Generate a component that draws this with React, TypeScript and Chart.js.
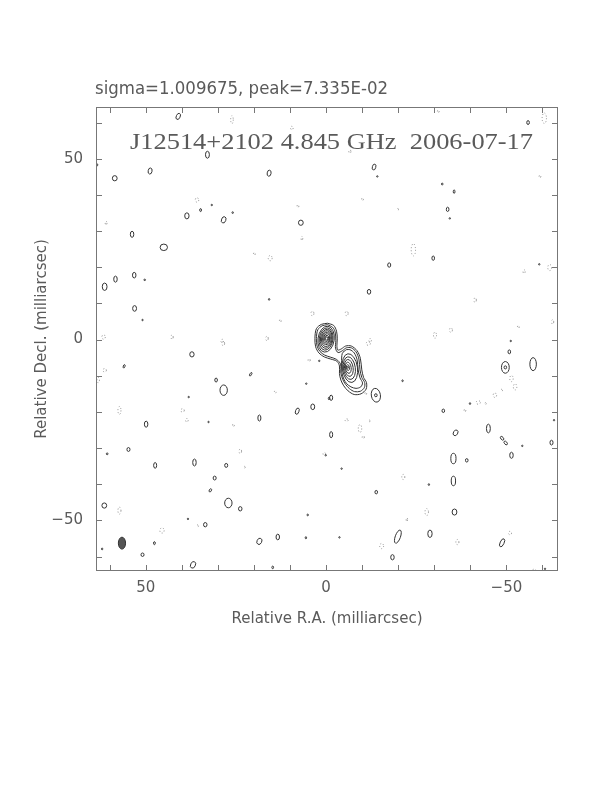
import React, { useEffect, useRef } from 'react';
import { Chart, registerables } from 'chart.js';

Chart.register(...registerables);

type Blob = [number, number, number, number, number]; // x, y, semi-axis x, semi-axis y, tilt (deg)
type Pt = [number, number];

const X_RANGE: Pt = [-64.3, 63.8];
const Y_RANGE: Pt = [-64.0, 64.3];
const TICK_STEP = 10;
const LABELED_TICKS = [-50, 0, 50];

const HEADER_TEXT = 'sigma=1.009675, peak=7.335E-02';
const MAP_TITLE = 'J12514+2102 4.845 GHz  2006-07-17';
const X_AXIS_TITLE = 'Relative R.A. (milliarcsec)';
const Y_AXIS_TITLE = 'Relative Decl. (milliarcsec)';

// outer contours enclosing core + jet component
const SOURCE_OUTER_1: Pt[] = [
  [-0.4, 4.5], [1.3, 4.2], [2.7, 3.0], [3.1, 0.3], [2.9, -2.0], [2.0, -3.7], [0.5, -4.8], [-1.3, -5.4],
  [-3.0, -6.0], [-3.7, -7.3], [-3.7, -9.4], [-4.1, -11.2], [-4.9, -12.8], [-6.1, -14.2], [-7.8, -15.2],
  [-9.7, -15.0], [-11.1, -13.7], [-11.2, -11.9], [-10.4, -10.5], [-9.9, -8.4], [-9.5, -5.2], [-8.6, -3.1],
  [-7.0, -1.8], [-5.4, -1.8], [-4.2, -2.6], [-3.2, -2.9], [-3.0, -1.6], [-3.1, 0.2], [-2.9, 2.3], [-2.1, 3.9],
];
const SOURCE_OUTER_2: Pt[] = [
  [-0.4, 4.1], [1.1, 3.8], [2.3, 2.7], [2.7, 0.3], [2.5, -1.8], [1.7, -3.3], [0.4, -4.3], [-1.3, -4.9],
  [-2.9, -5.5], [-4.0, -6.8], [-4.1, -9.3], [-4.6, -11.0], [-5.4, -12.4], [-6.5, -13.6], [-7.9, -14.4],
  [-9.5, -14.3], [-10.6, -13.3], [-10.7, -11.9], [-9.9, -10.5], [-9.4, -8.4], [-9.1, -5.4], [-8.3, -3.4],
  [-7.0, -2.3], [-5.6, -2.3], [-4.5, -3.1], [-3.3, -3.6], [-2.6, -2.4], [-2.7, -0.2], [-2.5, 2.1], [-1.8, 3.4],
];
const JET_OUTER: Pt[] = [
  [-5.6, -2.8], [-4.5, -3.8], [-4.3, -6.5], [-4.4, -9.2], [-4.9, -10.9], [-5.7, -12.2], [-6.9, -13.1],
  [-8.3, -13.5], [-9.6, -13.1], [-10.1, -12.0], [-9.4, -10.6], [-8.9, -8.4], [-8.6, -5.6], [-7.8, -3.7], [-6.6, -2.8],
];

const CORE_RINGS: Blob[] = [
  [0.0, 0.1, 2.25, 3.6, 8], [0.0, 0.15, 1.9, 3.1, 8], [-0.05, 0.2, 1.62, 2.63, 8], [-0.1, 0.25, 1.35, 2.2, 8],
  [-0.1, 0.3, 1.06, 1.74, 8], [-0.15, 0.3, 0.8, 1.3, 8], [-0.15, 0.3, 0.56, 0.87, 8], [-0.15, 0.3, 0.31, 0.47, 8],
];
const JET_RINGS: Blob[] = [
  [-6.6, -7.9, 2.1, 4.0, -8], [-6.45, -7.9, 1.65, 3.15, -8], [-6.3, -7.85, 1.2, 2.35, -8],
  [-6.15, -7.8, 0.8, 1.55, -8], [-6.05, -7.75, 0.42, 0.8, -8], [-6.0, -7.7, 0.2, 0.25, 0],
];

const POSITIVE_BLOBS: Blob[] = [
  [41.0, 61.7, 0.45, 0.75, 25], [32.9, 51.1, 0.45, 0.8, 0], [63.5, 48.3, 0.15, 0.25, 0], [58.6, 44.6, 0.55, 0.6, 0],
  [48.8, 46.6, 0.45, 0.7, 10], [15.8, 46.0, 0.45, 0.7, 10], [34.8, 35.8, 0.2, 0.35, 0], [31.7, 37.2, 0.12, 0.15, 0],
  [38.6, 34.2, 0.5, 0.7, 0], [28.4, 33.1, 0.5, 0.75, 20], [25.9, 35.1, 0.15, 0.2, 0], [7.0, 32.3, 0.55, 0.6, 0],
  [53.8, 29.1, 0.4, 0.7, 0], [45.0, 25.5, 0.85, 0.75, 0], [61.4, 14.6, 0.55, 0.85, 0], [58.4, 16.7, 0.4, 0.7, 0],
  [53.2, 17.8, 0.4, 0.65, 0], [50.3, 16.5, 0.2, 0.15, 0], [15.8, 11.1, 0.15, 0.2, 0], [53.1, 8.6, 0.45, 0.65, 0],
  [50.9, 5.4, 0.12, 0.15, 0],
  [-56.0, 60.0, 0.3, 0.45, 0], [-13.3, 47.7, 0.4, 0.7, 15], [-14.2, 45.1, 0.12, 0.15, 0], [-32.2, 43.0, 0.2, 0.2, 0],
  [-35.5, 40.9, 0.2, 0.4, 0], [-33.7, 36.0, 0.3, 0.5, 0], [-34.3, 33.5, 0.15, 0.15, 0], [-59.1, 20.8, 0.15, 0.15, 0],
  [-29.7, 22.5, 0.3, 0.5, 0], [-17.5, 20.6, 0.35, 0.5, 0], [-11.9, 13.2, 0.4, 0.55, 0], [-51.2, -0.4, 0.12, 0.12, 0],
  [37.2, -4.1, 0.5, 0.6, 0], [56.0, -7.4, 0.2, 0.4, 20], [30.5, -11.2, 0.3, 0.45, 0], [28.4, -14.0, 0.85, 1.2, 0],
  [20.9, -9.6, 0.2, 0.45, 30], [38.1, -15.9, 0.1, 0.12, 0], [1.9, -5.9, 0.12, 0.12, 0], [5.5, -12.2, 0.12, 0.12, 0],
  [3.7, -18.6, 0.45, 0.65, 0], [8.0, -19.8, 0.4, 0.75, 20], [-0.8, -16.3, 0.15, 0.3, 0], [18.5, -21.7, 0.35, 0.7, 0],
  [32.6, -22.8, 0.1, 0.1, 0], [49.9, -23.4, 0.4, 0.7, 0], [54.8, -30.4, 0.35, 0.45, 0], [60.7, -31.6, 0.2, 0.2, 0],
  [47.4, -34.8, 0.35, 0.65, 0], [36.5, -34.0, 0.4, 0.8, 0], [27.7, -34.8, 0.35, 0.45, 0], [30.9, -38.3, 0.35, 0.45, 0],
  [32.1, -41.7, 0.25, 0.4, 30], [27.1, -45.2, 0.85, 1.1, 0], [23.8, -46.8, 0.4, 0.5, 0], [61.5, -45.9, 0.55, 0.6, 0],
  [38.3, -49.6, 0.1, 0.1, 0], [33.5, -51.2, 0.4, 0.5, 0], [5.1, -48.5, 0.15, 0.2, 0], [62.1, -57.9, 0.15, 0.2, 0],
  [47.6, -56.3, 0.2, 0.35, 0], [50.9, -59.5, 0.35, 0.4, 0], [18.5, -55.8, 0.55, 0.75, 25], [13.4, -54.6, 0.4, 0.65, 0],
  [5.6, -54.8, 0.15, 0.25, 0], [36.9, -62.3, 0.55, 0.8, 25], [14.8, -63.0, 0.2, 0.3, 0],
  [-50.8, -3.4, 0.3, 0.45, 0], [-57.4, -6.8, 0.75, 1.5, 0], [-49.7, -7.7, 0.9, 1.35, 0], [-49.7, -7.7, 0.3, 0.35, 0],
  [-32.5, -19.7, 0.3, 0.4, 0], [-1.4, -16.1, 0.35, 0.6, 0], [-13.8, -15.4, 1.05, 1.6, -10], [-13.8, -15.4, 0.3, 0.35, 0],
  [-21.2, -11.4, 0.12, 0.2, 0], [-1.4, -26.3, 0.35, 0.7, 0], [0.1, -32.0, 0.1, 0.1, 0], [-4.3, -35.7, 0.1, 0.1, 0],
  [-35.9, -25.8, 0.5, 0.7, 30], [-45.0, -24.6, 0.45, 1.0, 0], [-48.8, -27.3, 0.3, 0.5, -40], [-49.8, -28.6, 0.3, 0.5, -40],
  [-54.4, -29.4, 0.12, 0.15, 0], [-62.5, -28.5, 0.35, 0.55, 0], [-63.2, -22.3, 0.12, 0.15, 0], [-51.4, -32.0, 0.4, 0.7, 0],
  [-35.3, -32.9, 0.6, 1.2, 0], [-39.0, -33.4, 0.3, 0.4, 0], [-28.5, -40.1, 0.12, 0.2, 0], [-35.3, -39.1, 0.5, 1.1, 0],
  [-13.9, -42.2, 0.3, 0.4, 0], [-35.6, -47.7, 0.55, 0.7, 0], [-19.9, -54.5, 0.6, 1.6, 20], [-28.8, -53.7, 0.5, 0.85, 0],
  [-3.7, -54.7, 0.1, 0.1, 0], [-48.8, -56.2, 0.45, 1.0, 25], [-18.4, -60.2, 0.4, 0.6, 0], [-60.7, -63.4, 0.1, 0.1, 0],
  [-39.9, -17.7, 0.15, 0.2, 0],
];

const NEGATIVE_BLOBS: Blob[] = [
  [26.1, 60.8, 0.3, 0.9, 0], [9.5, 58.5, 0.3, 0.4, 0], [35.8, 38.6, 0.4, 0.5, 0], [7.8, 36.9, 0.2, 0.3, 0],
  [6.7, 28.0, 0.2, 0.45, 0], [61.0, 32.2, 0.2, 0.4, 0], [19.9, 23.7, 0.2, 0.3, 0], [15.5, 22.5, 0.45, 0.6, 0],
  [12.7, 5.2, 0.2, 0.3, 0], [3.8, 7.2, 0.35, 0.5, 0], [61.7, 0.7, 0.4, 0.5, 0], [42.7, 0.7, 0.25, 0.5, 0],
  [28.8, -0.4, 0.3, 0.4, 0], [16.4, 0.3, 0.3, 0.5, 0], [-31.1, 63.1, 0.2, 0.3, 0], [-60.5, 61.2, 0.5, 1.2, 0],
  [-6.6, 52.0, 0.25, 0.35, 0], [-59.3, 45.1, 0.2, 0.3, 0], [-10.1, 38.8, 0.2, 0.3, 0], [-19.9, 36.0, 0.15, 0.2, 0],
  [-24.2, 24.8, 0.5, 1.4, 0], [-54.9, 18.8, 0.25, 0.4, 0], [-62.0, 19.9, 0.45, 0.7, 0], [-41.3, 10.9, 0.3, 0.5, 0],
  [-5.7, 7.2, 0.35, 0.5, 0], [-53.3, 3.5, 0.2, 0.3, 0], [-62.8, 4.9, 0.25, 0.5, 0], [-12.2, -0.2, 0.3, 0.4, 0],
  [-30.2, 1.2, 0.35, 0.7, 0], [-34.6, 2.6, 0.35, 0.5, 0], [61.4, -8.5, 0.4, 0.4, 0], [63.2, -11.2, 0.3, 0.6, 0],
  [28.5, -1.1, 0.3, 0.5, 0], [14.1, -14.5, 0.25, 0.2, 0], [4.7, -5.7, 0.25, 0.3, 0], [57.3, -19.6, 0.35, 0.9, 0],
  [39.8, -19.6, 0.4, 0.4, 0], [38.6, -22.3, 0.3, 0.4, 0], [25.7, -23.7, 0.2, 0.3, 0], [23.8, -30.9, 0.3, 0.5, 0],
  [22.6, -35.3, 0.15, 0.2, 0], [0.5, -31.6, 0.3, 0.3, 0], [57.3, -47.3, 0.35, 0.8, 0], [35.6, -51.5, 0.2, 0.2, 0],
  [45.5, -52.8, 0.5, 0.6, 0], [-51.4, -10.8, 0.4, 0.7, 0], [-52.4, -13.1, 0.4, 0.7, 0], [-48.7, -14.0, 0.2, 0.2, 0],
  [-46.8, -15.4, 0.4, 0.5, 0], [-42.2, -17.4, 0.5, 0.4, 0], [-44.2, -17.7, 0.2, 0.2, 0], [-38.5, -19.6, 0.2, 0.3, 0],
  [-11.0, -14.9, 0.2, 0.3, 0], [-11.7, -1.1, 0.5, 0.4, 0], [-5.7, -22.3, 0.35, 0.3, 0], [-12.0, -22.5, 0.15, 0.2, 0],
  [-9.4, -24.6, 0.4, 0.9, 0], [-10.3, -27.0, 0.25, 0.3, 0], [-21.4, -38.0, 0.35, 0.6, 0], [-27.9, -47.7, 0.4, 0.8, 0],
  [-22.4, -49.8, 0.15, 0.4, 0], [-15.4, -57.1, 0.45, 0.6, 0], [-36.4, -56.0, 0.35, 0.6, 0], [-51.0, -53.5, 0.35, 0.4, 0],
  [-57.7, -63.7, 0.3, 0.2, 0],
];

const BEAM: Blob = [56.6, -56.3, 1.0, 1.65, 0];

const fmtTick = (v: number) => (v < 0 ? '\u2212' + Math.abs(v) : String(v));

const closeLoop = (pts: Pt[]) => [...pts, pts[0]].map(([x, y]) => ({ x, y }));

const fitText = (ctx: CanvasRenderingContext2D, text: string, x: number, base: number, width: number, font: string, color: string) => {
  ctx.save();
  ctx.font = font;
  ctx.fillStyle = color;
  ctx.textAlign = 'left';
  ctx.textBaseline = 'alphabetic';
  const w = ctx.measureText(text).width;
  ctx.translate(x, base);
  ctx.scale(width / w, 1);
  ctx.fillText(text, 0, 0);
  ctx.restore();
};

const NOISE_LINE_SCALE = 1.2;

const mapPlugin = {
  id: 'vlbiMap',
  afterDatasetsDraw(chart: any) {
    const { ctx, chartArea: a, scales } = chart;
    const xs = scales.x;
    const ys = scales.y;
    const ellipse = (b: Blob, k = 1) => {
      const [cx, cy, rx, ry, ang] = b;
      const px = xs.getPixelForValue(cx);
      const py = ys.getPixelForValue(cy);
      const rpx = Math.max(0.7, k * Math.abs(xs.getPixelForValue(cx + rx) - px));
      const rpy = Math.max(0.7, k * Math.abs(ys.getPixelForValue(cy + ry) - py));
      ctx.beginPath();
      ctx.ellipse(px, py, rpx, rpy, (ang * Math.PI) / 180, 0, Math.PI * 2);
    };
    ctx.save();
    ctx.beginPath();
    ctx.rect(a.left, a.top, a.right - a.left, a.bottom - a.top);
    ctx.clip();
    ctx.lineWidth = 1;
    ctx.strokeStyle = '#8c8c8c';
    ctx.setLineDash([1, 2]);
    NEGATIVE_BLOBS.forEach((b) => { ellipse(b, NOISE_LINE_SCALE); ctx.stroke(); });
    ctx.setLineDash([]);
    ctx.strokeStyle = '#333';
    POSITIVE_BLOBS.forEach((b) => { ellipse(b, NOISE_LINE_SCALE); ctx.stroke(); });
    [...CORE_RINGS, ...JET_RINGS].forEach((b) => { ellipse(b); ctx.stroke(); });
    ellipse(BEAM);
    ctx.fillStyle = '#555';
    ctx.fill();
    ctx.stroke();
    ctx.restore();

    // frame and inward ticks on all four sides
    ctx.save();
    ctx.strokeStyle = '#777';
    ctx.lineWidth = 1;
    ctx.strokeRect(a.left + 0.5, a.top + 0.5, a.right - a.left - 1, a.bottom - a.top - 1);
    const tl = 6;
    ctx.beginPath();
    for (let v = Math.ceil(X_RANGE[0] / TICK_STEP) * TICK_STEP; v <= X_RANGE[1]; v += TICK_STEP) {
      const p = Math.round(xs.getPixelForValue(v)) + 0.5;
      ctx.moveTo(p, a.bottom); ctx.lineTo(p, a.bottom - tl);
      ctx.moveTo(p, a.top); ctx.lineTo(p, a.top + tl);
    }
    for (let v = Math.ceil(Y_RANGE[0] / TICK_STEP) * TICK_STEP; v <= Y_RANGE[1]; v += TICK_STEP) {
      const p = Math.round(ys.getPixelForValue(v)) + 0.5;
      ctx.moveTo(a.left, p); ctx.lineTo(a.left + tl, p);
      ctx.moveTo(a.right, p); ctx.lineTo(a.right - tl, p);
    }
    ctx.stroke();
    ctx.restore();
  },
  afterDraw(chart: any) {
    const { ctx } = chart;
    fitText(ctx, HEADER_TEXT, 95, 94, 293, '17px "DejaVu Sans"', '#5a5a5a');
    fitText(ctx, MAP_TITLE, 130, 149, 403, '24px "Liberation Serif"', '#5a5a5a');
  },
};

export default function App() {
  const ref = useRef<HTMLCanvasElement | null>(null);
  useEffect(() => {
    if (!ref.current) return;
    const lineDs = (pts: Pt[]) => ({
      data: closeLoop(pts),
      showLine: true,
      pointRadius: 0,
      borderColor: '#333',
      borderWidth: 1,
      tension: 0.3,
      fill: false,
    });
    const axisFont = { family: '"DejaVu Sans"', size: 15 };
    const chart = new Chart(ref.current, {
      type: 'scatter',
      data: { datasets: [lineDs(SOURCE_OUTER_1), lineDs(SOURCE_OUTER_2), lineDs(JET_OUTER)] },
      options: {
        animation: false,
        responsive: false,
        devicePixelRatio: 1,
        layout: { padding: { top: 107, right: 54, left: 0, bottom: 161 } },
        plugins: { legend: { display: false }, tooltip: { enabled: false } },
        scales: {
          x: {
            type: 'linear',
            position: 'bottom',
            min: X_RANGE[0],
            max: X_RANGE[1],
            reverse: true,
            grid: { display: false, drawTicks: false },
            border: { display: false },
            afterBuildTicks: (s: any) => { s.ticks = LABELED_TICKS.map((value) => ({ value })); },
            afterFit: (s: any) => { s.height = 60; },
            ticks: { font: axisFont, color: '#5a5a5a', padding: 8, autoSkip: false, maxRotation: 0, callback: (v: any) => fmtTick(Number(v)) },
            title: { display: true, text: X_AXIS_TITLE, font: axisFont, color: '#5a5a5a', padding: { top: 0, bottom: 3 } },
          },
          y: {
            type: 'linear',
            position: 'left',
            min: Y_RANGE[0],
            max: Y_RANGE[1],
            grid: { display: false, drawTicks: false },
            border: { display: false },
            afterBuildTicks: (s: any) => { s.ticks = LABELED_TICKS.map((value) => ({ value })); },
            afterFit: (s: any) => { s.width = 96; },
            ticks: { font: axisFont, color: '#5a5a5a', padding: 13, autoSkip: false, callback: (v: any) => fmtTick(Number(v)) },
            title: { display: true, text: Y_AXIS_TITLE, font: axisFont, color: '#5a5a5a', padding: { top: 33, bottom: 0 } },
          },
        },
      },
      plugins: [mapPlugin],
    } as any);
    return () => chart.destroy();
  }, []);
  return (
    <div style={{ position: 'absolute', left: 0, top: 0, width: 612, height: 792, background: '#fff' }}>
      <canvas ref={ref} width={612} height={792} />
    </div>
  );
}
